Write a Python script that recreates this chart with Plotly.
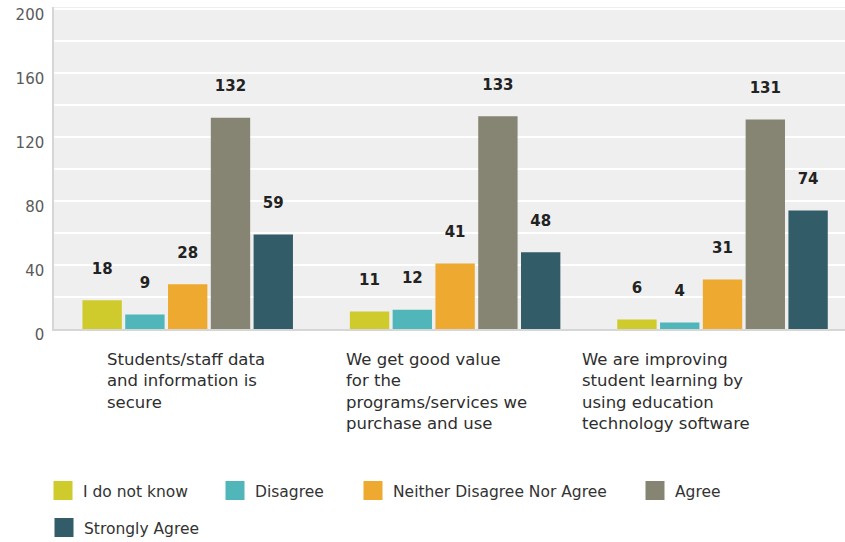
import plotly.graph_objects as go

# Survey statements (x categories) and response counts per answer option
statements = [
    "Students/staff data<br>and information is<br>secure",
    "We get good value<br>for the<br>programs/services we<br>purchase and use",
    "We are improving<br>student learning by<br>using education<br>technology software",
]
responses = ["I do not know", "Disagree", "Neither Disagree Nor Agree", "Agree", "Strongly Agree"]
counts = {
    "I do not know": [18, 11, 6],
    "Disagree": [9, 12, 4],
    "Neither Disagree Nor Agree": [28, 41, 31],
    "Agree": [132, 133, 131],
    "Strongly Agree": [59, 48, 74],
}
colors = {
    "I do not know": "#d0cb2c",
    "Disagree": "#50b6b9",
    "Neither Disagree Nor Agree": "#eeaa30",
    "Agree": "#868574",
    "Strongly Agree": "#335c69",
}
y_ticks = [0, 40, 80, 120, 160, 200]

FONT = "DejaVu Sans"
W, H = 845, 542
ML, MR, MT, MB = 54, 0, 7, 213

# one legend box per entry: (left edge px, vertical centre px)
legend_pos = {
    "I do not know": (43, 491),
    "Disagree": (215, 491),
    "Neither Disagree Nor Agree": (353, 491),
    "Agree": (635, 491),
    "Strongly Agree": (44, 528),
}
legend_ids = ["legend", "legend2", "legend3", "legend4", "legend5"]

x_idx = list(range(len(statements)))

fig = go.Figure()
for r in responses:
    vals = counts[r]
    fig.add_trace(go.Bar(
        name=r,
        x=x_idx,
        y=vals,
        marker=dict(color=colors[r], line=dict(width=0)),
        text=[f"<b>{v}</b><br> " for v in vals],
        textposition="outside",
        textfont=dict(family=FONT, size=15, color="#222222"),
        constraintext="none",
        cliponaxis=False,
        showlegend=False,
        hoverinfo="skip",
    ))

# legend swatches
for r, lid in zip(responses, legend_ids):
    fig.add_trace(go.Scatter(
        name=r,
        x=[None], y=[None],
        mode="markers",
        marker=dict(symbol="square", size=22, color=colors[r],
                    line=dict(width=3, color=colors[r])),
        legend=lid,
        hoverinfo="skip",
    ))

# Left-aligned statement labels under each group
label_shift = [-83, -111, -143]
for i, s in enumerate(statements):
    fig.add_annotation(
        x=i, xref="x", y=0, yref="paper",
        xanchor="left", yanchor="top", align="left",
        xshift=label_shift[i], yshift=-19,
        text=s, showarrow=False,
        font=dict(family=FONT, size=16.5, color="#2e2e2e"),
    )

legend_layout = {}
for r, lid in zip(responses, legend_ids):
    lx, ly = legend_pos[r]
    legend_layout[lid] = dict(
        orientation="h",
        xref="container", yref="container",
        x=lx / W, y=1 - ly / H,
        xanchor="left", yanchor="middle",
        font=dict(family=FONT, size=15.5, color="#333333"),
        bgcolor="rgba(0,0,0,0)",
        itemclick=False, itemdoubleclick=False,
    )

fig.update_layout(
    width=W, height=H,
    margin=dict(l=ML, r=MR, t=MT, b=MB),
    paper_bgcolor="white",
    plot_bgcolor="#efefef",
    barmode="group",
    bargap=0.2,
    bargroupgap=0.08,
    font=dict(family=FONT),
    xaxis=dict(
        range=[-0.5, 2.458],
        showticklabels=False,
        showgrid=False,
        zeroline=False,
        showline=True, linecolor="#d6d6d6", linewidth=1.5,
        fixedrange=True,
    ),
    yaxis=dict(
        range=[0, 201.25],
        tickvals=y_ticks,
        ticktext=[str(t) for t in y_ticks],
        tickfont=dict(family=FONT, size=15, color="#5a5a5a"),
        ticklabelshift=6,
        ticklabelstandoff=5,
        showgrid=True, gridcolor="white", gridwidth=1.5,
        minor=dict(dtick=20, showgrid=True, gridcolor="white", gridwidth=1.5),
        zeroline=False,
        showline=True, linecolor="#d6d6d6", linewidth=1.5,
        fixedrange=True,
    ),
    showlegend=True,
    **legend_layout,
)

fig.write_html("out.html", config={"displayModeBar": False})
